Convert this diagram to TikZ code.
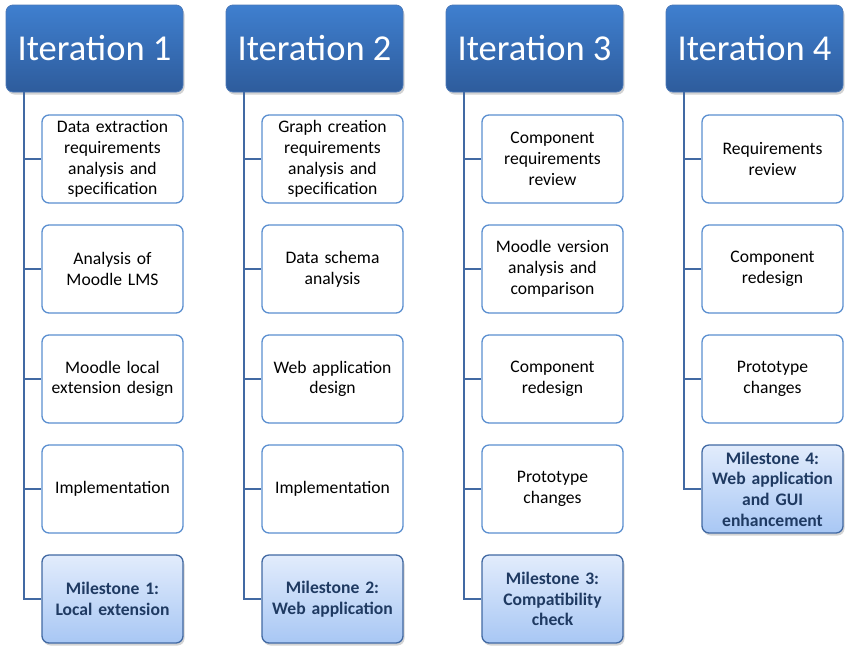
\documentclass[tikz,border=0pt]{standalone}
\usepackage{fontspec}
\setmainfont{Carlito}
\usetikzlibrary{shadows}
\definecolor{hdtop}{HTML}{3F7FCF}
\definecolor{hdbot}{HTML}{2E5C9C}
\definecolor{hdline}{HTML}{4A78B8}
\definecolor{conn}{HTML}{4169A3}
\definecolor{boxline}{HTML}{5B8FD0}
\definecolor{mstop}{HTML}{E2ECFC}
\definecolor{msbot}{HTML}{A8C7F4}
\definecolor{mstext}{HTML}{1F3A62}
\tikzset{
  x=1pt, y=-1pt,
  header/.style={draw=hdline, line width=0.8pt, rounded corners=7pt, top color=hdtop, bottom color=hdbot,
    minimum width=177pt, minimum height=87pt, text=white, font=\fontsize{36.5}{40}\selectfont,
    drop shadow={shadow xshift=1.5pt, shadow yshift=-2.5pt, opacity=0.35}},
  task/.style={draw=boxline, line width=1.3pt, rounded corners=7pt, fill=white,
    minimum width=141pt, minimum height=88pt, align=center, text width=132pt,
    font=\fontsize{17.6}{20.7}\selectfont},
  mile/.style={task, draw=conn, top color=mstop, bottom color=msbot, text=mstext,
    font=\fontsize{17.6}{20.7}\selectfont\bfseries,
    drop shadow={shadow xshift=1.5pt, shadow yshift=-2.5pt, opacity=0.35}},
  link/.style={draw=conn, line width=1.8pt}
}
\begin{document}
\begin{tikzpicture}
\useasboundingbox (0,0) rectangle (845,646);
% column 1
\node[header] (h1) at (94.5,48.5) {Iteration 1};
\node[task] (a1) at (112.5,159) {Data extraction\\requirements\\analysis and\\specification};
\node[task] (a2) at (112.5,269) {Analysis of\\Moodle LMS};
\node[task] (a3) at (112.5,379) {Moodle local\\extension design};
\node[task] (a4) at (112.5,489) {Implementation};
\node[mile] (a5) at (112.5,599) {Milestone 1:\\Local extension};
% column 2
\node[header] (h2) at (314.5,48.5) {Iteration 2};
\node[task] (b1) at (332.5,159) {Graph creation\\requirements\\analysis and\\specification};
\node[task] (b2) at (332.5,269) {Data schema\\analysis};
\node[task] (b3) at (332.5,379) {Web application\\design};
\node[task] (b4) at (332.5,489) {Implementation};
\node[mile] (b5) at (332.5,599) {Milestone 2:\\Web application};
% column 3
\node[header] (h3) at (534.5,48.5) {Iteration 3};
\node[task] (c1) at (552.5,159) {Component\\requirements\\review};
\node[task] (c2) at (552.5,269) {Moodle version\\analysis and\\comparison};
\node[task] (c3) at (552.5,379) {Component\\redesign};
\node[task] (c4) at (552.5,489) {Prototype\\changes};
\node[mile] (c5) at (552.5,599) {Milestone 3:\\Compatibility\\check};
% column 4
\node[header] (h4) at (754.5,48.5) {Iteration 4};
\node[task] (d1) at (772.5,159) {Requirements\\review};
\node[task] (d2) at (772.5,269) {Component\\redesign};
\node[task] (d3) at (772.5,379) {Prototype\\changes};
\node[mile] (d4) at (772.5,489) {Milestone 4:\\Web application\\and GUI\\enhancement};
% connectors
\foreach \h/\xx/\lst in {h1/24/{a1,a2,a3,a4,a5}, h2/244/{b1,b2,b3,b4,b5}, h3/464/{c1,c2,c3,c4,c5}, h4/684/{d1,d2,d3,d4}}{
  \foreach \b in \lst {
    \draw[link] (\h.south -| \xx,0) |- (\b.west);
  }
}
\end{tikzpicture}
\end{document}
